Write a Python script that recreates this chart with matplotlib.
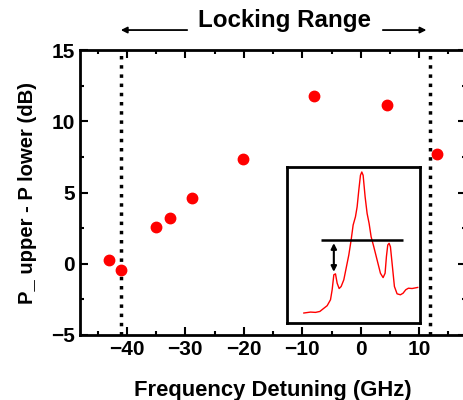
import matplotlib
matplotlib.use('Agg')
import matplotlib.pyplot as plt
from matplotlib.ticker import MultipleLocator

plt.rcParams['font.family'] = ['Liberation Sans', 'DejaVu Sans']
plt.rcParams['font.weight'] = 'bold'

# detuning (GHz) vs. sideband power difference (dB)
detuning = [-43.0, -41.0, -35.0, -32.6, -28.8, -20.2, -8.0, 4.5, 13.0]
p_diff = [0.26, -0.44, 2.58, 3.21, 4.61, 7.35, 11.79, 11.14, 7.70]

# locking range boundaries (GHz)
lock_low = -41.0
lock_high = 11.9

# inset spectrum trace (arbitrary units)
trace_x = [12.5, 17.5, 21.25, 24.5, 27, 30, 32.5, 33.75, 35, 36.25, 37.5, 39, 40.5,
           42.5, 44.5, 46.25, 48, 49.5, 51.25, 52.5, 53.75, 55, 56, 57, 58.5, 60,
           61.5, 63, 65, 67.5, 70, 72, 73.5, 74.5, 75.5, 76.5, 77.5, 79, 80.5, 82.5,
           85, 87, 89, 91, 93.75, 98]
trace_y = [6.4, 7.0, 6.8, 7.4, 9.1, 11.1, 14.9, 21.3, 30.9, 31.5, 25.5, 22.1, 23.4,
           27.7, 36.2, 43.6, 53.2, 62.8, 68.1, 74.5, 85.1, 94.7, 96.8, 94.7, 80.9, 70.2,
           63.8, 55.3, 48.9, 40.4, 31.9, 29.1, 31.9, 42.6, 50.0, 51.1, 48.9, 36.2, 23.4, 18.7,
           18.1, 19.1, 21.3, 22.3, 22.1, 22.8]
ref_level = 53.0
ref_span = (25, 87)
arrow_x = 35
arrow_low = 31.0

fig = plt.figure(figsize=(4.64, 4.0), dpi=100)
ax = fig.add_axes([0.1724, 0.1625, 0.832, 0.7125])

ax.plot(detuning, p_diff, 'o', color='red', markersize=7.5, zorder=3)
ax.axvline(lock_low, color='black', linestyle=':', linewidth=2.5)
ax.axvline(lock_high, color='black', linestyle=':', linewidth=2.5)

ax.set_xlim(-48, 18)
ax.set_ylim(-5, 15)
ax.xaxis.set_major_locator(MultipleLocator(10))
ax.xaxis.set_minor_locator(MultipleLocator(5))
ax.yaxis.set_major_locator(MultipleLocator(5))
ax.yaxis.set_minor_locator(MultipleLocator(2.5))
ax.tick_params(which='both', direction='in', top=True, right=True, width=1.5,
               labelsize=15)
ax.tick_params(which='major', length=6)
ax.tick_params(which='minor', length=3)
for s in ax.spines.values():
    s.set_linewidth(2)

ax.set_xlabel('Frequency Detuning (GHz)', fontsize=15.8, fontweight='bold')
ax.set_ylabel('P_ upper - P lower (dB)', fontsize=14.6, fontweight='bold')
ax.xaxis.set_label_coords(0.5, -0.193)
ax.yaxis.set_label_coords(-0.137, 0.5)
ax.xaxis.label.set_va('center')
ax.yaxis.label.set_va('center')

# locking range annotation
tr = ax.get_xaxis_transform()
ax.text(-13.0, 1.105, 'Locking Range', transform=tr, ha='center', va='center',
        fontsize=17.4, fontweight='bold')
ax.annotate('', xy=(-41.5, 1.07), xytext=(-29.2, 1.07), xycoords=tr, textcoords=tr,
            arrowprops=dict(arrowstyle='-|>', color='black', lw=1.3, mutation_scale=9),
            annotation_clip=False)
ax.annotate('', xy=(11.7, 1.07), xytext=(3.3, 1.07), xycoords=tr, textcoords=tr,
            arrowprops=dict(arrowstyle='-|>', color='black', lw=1.3, mutation_scale=9),
            annotation_clip=False)

# inset spectrum
ins = fig.add_axes([0.619, 0.1925, 0.287, 0.39])
ins.plot(trace_x, trace_y, color='red', linewidth=1)
ins.hlines(ref_level, ref_span[0], ref_span[1], color='black', linewidth=1.8)
ins.annotate('', xy=(arrow_x, arrow_low), xytext=(arrow_x, ref_level),
             arrowprops=dict(arrowstyle='<|-|>', color='black', lw=1.5, mutation_scale=8))
ins.set_xlim(0, 100)
ins.set_ylim(0, 100)
ins.set_xticks([])
ins.set_yticks([])
for s in ins.spines.values():
    s.set_linewidth(2)

fig.savefig('out.png', dpi=100)
